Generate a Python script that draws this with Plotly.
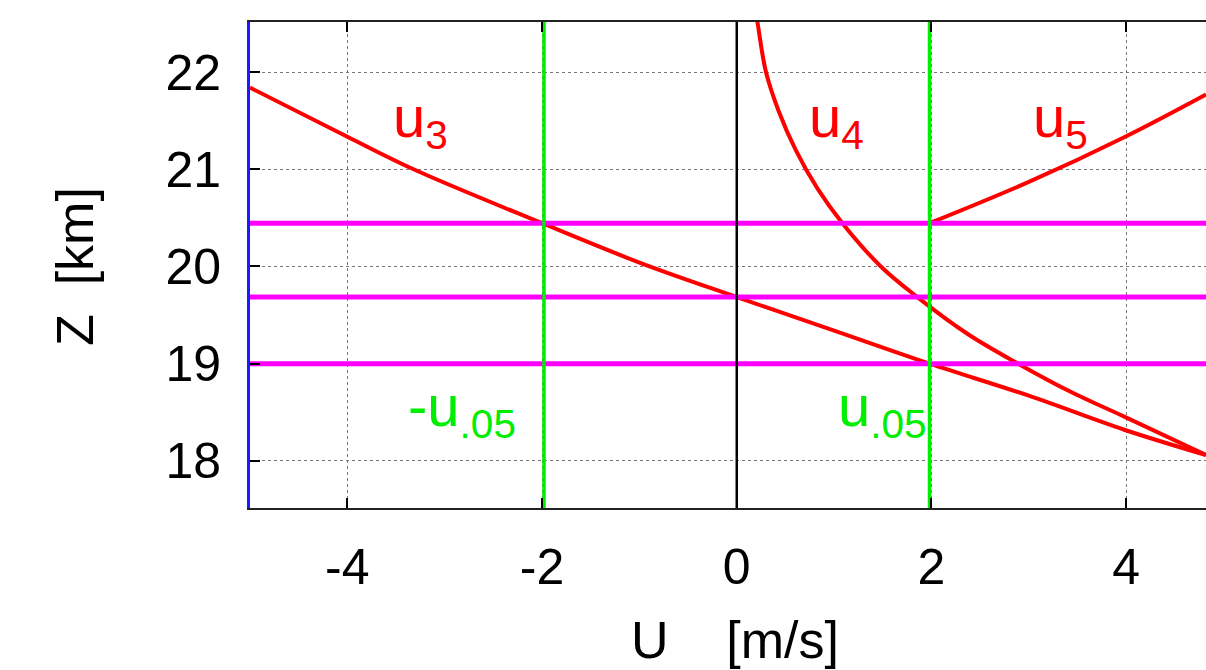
import plotly.graph_objects as go

# Wind profiles U(z): u in m/s, z in km
u3_u = [-5.0, -4.0, -3.32, -2.0, -1.0, 0.0, 1.0, 1.98, 3.0, 3.98, 4.82]
u3_z = [21.84, 21.335, 21.0, 20.445, 20.04, 19.685, 19.34, 19.0, 18.67, 18.32, 18.06]

u4_u = [0.198, 0.215, 0.30, 0.43, 0.605, 0.83, 1.085, 1.48, 1.855, 2.38, 2.89, 3.45, 3.98, 4.82]
u4_z = [22.6, 22.5, 22.0, 21.6, 21.2, 20.8, 20.445, 20.0, 19.685, 19.3, 19.0, 18.7, 18.455, 18.06]

u5_u = [1.98, 3.0, 3.98, 4.82]
u5_z = [20.445, 20.87, 21.33, 21.77]

# Threshold speed and reference heights
u05 = 1.98
z_levels = [20.445, 19.685, 19.0]

x_ticks = [-4, -2, 0, 2, 4]
x_ticklabels = ["-4", "-2", "0", "2", "4"]
y_ticks = [18, 19, 20, 21, 22]
y_ticklabels = ["18", "19", "20", "21", "22"]

x_range = [-5.0, 4.82]
y_range = [17.515, 22.515]

FONT = "Liberation Sans, Arial, sans-serif"
RED = "#ff0000"
GREEN = "#00ee00"
MAGENTA = "#ff00ff"

fig = go.Figure()

for uu, zz in [(u3_u, u3_z), (u4_u, u4_z), (u5_u, u5_z)]:
    fig.add_trace(go.Scatter(x=uu, y=zz, mode="lines",
                             line=dict(color=RED, width=4, shape="spline", smoothing=1.0),
                             hoverinfo="skip", showlegend=False))

for z in z_levels:
    fig.add_trace(go.Scatter(x=x_range, y=[z, z], mode="lines",
                             line=dict(color=MAGENTA, width=5),
                             hoverinfo="skip", showlegend=False))

for u in [-u05, u05]:
    fig.add_trace(go.Scatter(x=[u, u], y=y_range, mode="lines",
                             line=dict(color=GREEN, width=3.5),
                             hoverinfo="skip", showlegend=False))

fig.add_trace(go.Scatter(x=[0, 0], y=y_range, mode="lines",
                         line=dict(color="black", width=2.5),
                         hoverinfo="skip", showlegend=False))

# Curve and threshold labels
labels = [
    ("u<sub>3</sub>", -3.55, 21.5, RED),
    ("u<sub>4</sub>", 0.72, 21.5, RED),
    ("u<sub>5</sub>", 3.02, 21.5, RED),
    ("-u<sub>.05</sub>", -3.4, 18.52, GREEN),
    ("u<sub>.05</sub>", 1.02, 18.52, GREEN),
]
for text, x, y, color in labels:
    fig.add_annotation(x=x, y=y, xref="x", yref="y", text=text, showarrow=False,
                       xanchor="left", yanchor="middle",
                       font=dict(family=FONT, size=58, color=color))

W, H = 1206, 670
L, R, T, B = 250, 0, 22, 162


def paper_xy(px, py):
    return (px - L) / (W - L - R), 1 - (py - T) / (H - T - B)


# Axis titles
tx, ty = paper_xy(735, 640)
fig.add_annotation(x=tx, y=ty, xref="paper", yref="paper", text="U    [m/s]",
                   xanchor="center", yanchor="middle",
                   showarrow=False, font=dict(family=FONT, size=52, color="black"))
tx, ty = paper_xy(75, 267)
fig.add_annotation(x=tx, y=ty, xref="paper", yref="paper", text="Z  [km]", textangle=-90,
                   xanchor="center", yanchor="middle",
                   showarrow=False, font=dict(family=FONT, size=52, color="black"))

fig.update_layout(
    width=W, height=H,
    margin=dict(l=L, r=R, t=T, b=B, pad=0),
    plot_bgcolor="white", paper_bgcolor="white",
    font=dict(family=FONT, size=50, color="black"),
    xaxis=dict(range=x_range, tickvals=x_ticks, ticktext=x_ticklabels,
               showline=True, linecolor="#222222", linewidth=2, mirror="ticks",
               ticks="inside", ticklen=10, tickwidth=2, tickcolor="black",
               showgrid=True, gridcolor="#777777", griddash="dot", gridwidth=1,
               zeroline=False, ticklabelstandoff=14),
    yaxis=dict(range=y_range, tickvals=y_ticks, ticktext=y_ticklabels,
               showline=True, linecolor="#1a1aff", linewidth=3, mirror=False,
               ticks="inside", ticklen=10, tickwidth=2, tickcolor="black",
               showgrid=True, gridcolor="#777777", griddash="dot", gridwidth=1,
               zeroline=False, ticklabelstandoff=16),
)

fig.write_html("out.html")
